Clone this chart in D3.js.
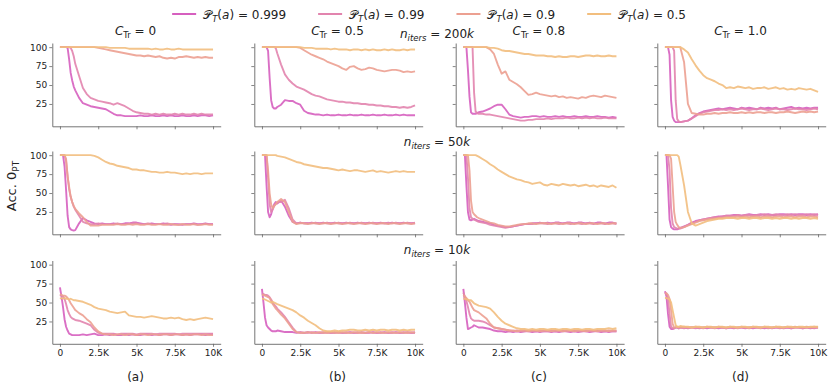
<!DOCTYPE html>
<html><head><meta charset="utf-8">
<script src="https://cdn.jsdelivr.net/npm/d3@7"></script>
<style>body{margin:0;background:#fff} text{font-family:"DejaVu Sans",sans-serif;fill:#222}</style>
</head><body><svg id="c" width="830" height="385"></svg>
<script>
// ---------- data ----------
const iters = [0,100,200,300,400,500,600,700,800,900,1000,
  1250,1500,1750,2000,2250,2500,2750,3000,3250,3500,3750,4000,4250,4500,4750,5000,
  5250,5500,5750,6000,6250,6500,6750,7000,7250,7500,7750,8000,8250,8500,8750,9000,
  9250,9500,9750,10000];
const probLabels = ["0.999","0.99","0.9","0.5"];
const seriesColors = ["#d65fbf","#e284ae","#eca091","#f2be7e"];
const ctrLabels = ["0","0.5","0.8","1.0"];
const nitersLabels = ["200","50","10"];
const panelLetters = ["(a)","(b)","(c)","(d)"];
const yTicks = [25,50,75,100];
const xTicks = [0,2500,5000,7500,10000];
const xTickLabels = ["0","2.5K","5K","7.5K","10K"];

// n_iters = 200k
const n200_c0_p999 = [100,100,100,100,100,99,84,66,56,48,43, 33,26,24,22, 21,20,19,18, 15,12,10,10, 9,9,9,9, 10,9,9,10, 9,9,10,9, 10,9,9,10, 9,9,10,9, 10,10,9,10];
const n200_c0_p99 = [100,100,100,100,100,100,100,99,95,88,78, 62,46,38,33, 31,29,28,27, 26,24,26,24, 22,19,16,14, 13,12,12,11, 12,11,12,11, 11,12,11,12, 11,11,12,11, 12,11,11,11];
const n200_c0_p9 = [100,100,100,100,100,100,100,100,100,100,100, 100,100,100,100, 100,99,98,97, 96,95,94,93, 92,91,90,89, 89,88,89,88, 87,88,86,85, 86,85,87,87, 88,87,86,87, 86,87,86,86];
const n200_c0_p5 = [100,100,100,100,100,100,100,100,100,100,100, 100,100,100,100, 100,100,100,100, 99,99,99,99, 99,98,98,98, 98,98,98,97, 98,97,97,98, 97,97,98,97, 97,97,97,97, 97,97,97,97];

const n200_c05_p999 = [100,100,100,100,95,60,30,21,19,19,21, 24,30,29,29, 26,24,16,13, 12,11,11,10, 11,10,10,11, 10,10,11,10, 10,11,10,10, 11,10,10,11, 10,10,11,10, 11,10,10,10];
const n200_c05_p99 = [100,100,100,100,100,100,100,100,100,99,92, 77,64,57,52, 48,46,44,41, 38,36,35,33, 31,30,29,28, 28,27,27,26, 26,25,25,24, 24,23,23,22, 22,21,21,20, 21,20,21,23];
const n200_c05_p9 = [100,100,100,100,100,100,100,100,100,100,100, 100,100,100,100, 100,99,96,93, 90,88,86,84, 81,79,77,75, 72,70,74,75, 72,70,71,73, 72,70,69,68, 69,70,70,69, 67,68,67,68];
const n200_c05_p5 = [100,100,100,100,100,100,100,100,100,100,100, 100,100,100,100, 100,100,99,99, 99,98,98,98, 98,97,98,97, 97,97,96,97, 97,96,97,96, 97,96,96,97, 96,97,96,96, 97,96,97,97];

const n200_c08_p999 = [100,100,100,70,35,14,12,12,12,13,14, 15,17,19,22, 24,24,18,11, 9,8,7,8, 8,9,9,8, 9,8,8,9, 8,9,8,8, 9,8,8,9, 8,8,9,8, 8,7,8,7];
const n200_c08_p99 = [100,100,100,100,100,100,100,40,15,13,12, 12,11,11,10, 9,8,7,6, 5,4,3,3, 4,4,5,5, 5,6,5,6, 6,6,7,6, 6,7,6,7, 6,7,6,6, 7,6,6,6];
const n200_c08_p9 = [100,100,100,100,100,100,100,100,100,100,100, 100,100,97,91, 77,65,68,57, 54,51,47,42, 37,38,40,38, 37,36,35,36, 34,35,33,34, 33,32,34,33, 35,36,35,34, 36,35,34,33];
const n200_c08_p5 = [100,100,100,100,100,100,100,100,100,100,100, 100,100,99,99, 98,96,95,95, 94,93,92,91, 91,90,89,89, 89,88,88,87, 88,87,87,88, 88,87,88,89, 89,88,89,88, 88,89,88,88];

const n200_c10_p999 = [100,100,100,90,30,8,3,1,1,1,1, 2,3,6,10, 13,15,16,17, 18,19,18,19, 20,19,18,20, 19,20,19,18, 20,19,20,19, 20,18,19,20, 21,19,20,19, 20,19,20,20];
const n200_c10_p99 = [100,100,100,100,100,100,95,30,5,2,1, 2,3,6,9, 12,14,15,16, 17,17,18,17, 18,17,18,19, 18,17,18,18, 19,18,17,18, 19,18,18,17, 18,19,18,18, 17,18,19,18];
const n200_c10_p9 = [100,100,100,100,100,100,100,100,100,100,100, 80,25,13,12, 11,11,12,12, 13,12,13,13, 14,13,13,14, 13,14,13,14, 14,13,14,14, 13,14,14,15, 14,13,14,15, 14,15,14,15];
const n200_c10_p5 = [100,100,100,100,100,100,100,100,100,100,100, 97,93,84,76, 69,63,59,57, 55,52,50,46, 47,46,48,47, 46,47,45,46, 46,47,45,46, 47,45,46,44, 45,44,46,45, 44,45,43,41];

// n_iters = 50k
const n50_c0_p999 = [100,100,100,85,54,20,5,2,1,0.5,1, 10,17,14,12, 10,9,10,9, 9,10,9,9, 10,10,11,11, 10,9,9,10, 9,9,10,9, 8,9,9,8, 9,9,10,9, 9,10,9,9];
const n50_c0_p99 = [100,100,100,100,92,72,55,45,38,32,28, 20,12,10,9, 9,10,9,9, 9,9,10,9, 9,9,10,10, 9,9,10,9, 9,9,9,10, 9,9,8,9, 9,9,9,8, 9,9,9,9];
const n50_c0_p9 = [100,100,100,100,95,72,58,45,38,33,29, 23,18,12,7, 7,7,8,8, 8,8,9,8, 8,9,8,9, 8,8,9,8, 8,9,8,8, 9,8,8,9, 8,8,9,8, 8,9,8,8];
const n50_c0_p5 = [100,100,100,100,100,100,100,100,100,100,100, 100,100,100,100, 99,97,94,91, 89,88,86,85, 84,83,81,81, 80,80,79,78, 78,77,77,78, 77,77,76,75, 76,75,76,76, 75,76,76,76];

const n50_c05_p999 = [100,100,100,60,25,18,22,30,35,38,36, 40,32,20,12, 10,11,10,10, 11,10,10,11, 10,10,11,10, 10,11,10,10, 11,10,10,11, 10,10,11,10, 10,11,10,10, 11,10,10,10];
const n50_c05_p99 = [100,100,100,100,70,35,25,28,33,36,38, 38,41,30,15, 10,11,10,10, 10,11,10,10, 11,10,10,11, 10,10,11,10, 10,11,10,10, 11,10,10,10, 11,10,11,10, 10,11,10,11];
const n50_c05_p9 = [100,100,100,100,80,50,35,30,33,35,38, 42,38,25,12, 9,10,10,9, 10,10,9,10, 10,9,10,10, 9,10,10,9, 10,10,9,10, 10,9,10,10, 9,10,10,9, 10,10,9,10];
const n50_c05_p5 = [100,100,100,100,100,100,100,100,100,100,99, 98,97,95,93, 91,90,88,87, 86,85,84,83, 83,82,81,80, 81,80,79,80, 80,79,78,79, 80,78,79,78, 77,78,79,78, 79,78,78,78];

const n50_c08_p999 = [100,100,60,25,15,14,15,16,15,14,13, 12,11,10,8, 7,6,5,5, 6,7,8,9, 9,10,10,11, 10,11,10,11, 11,10,11,11, 10,11,11,10, 11,10,11,11, 10,11,11,10];
const n50_c08_p99 = [100,100,100,70,30,18,16,15,14,13,12, 11,10,8,7, 6,5,4,5, 6,7,8,9, 9,9,10,10, 10,9,10,10, 9,10,10,9, 10,10,9,10, 10,9,10,10, 9,10,10,9];
const n50_c08_p9 = [100,100,100,100,80,40,25,22,20,18,17, 15,13,11,10, 8,7,6,6, 7,8,9,9, 10,10,9,10, 10,10,9,10, 10,9,10,10, 9,10,10,9, 10,10,9,10, 10,9,10,10];
const n50_c08_p5 = [100,100,100,100,100,100,100,100,100,99,98, 95,92,88,85, 81,78,75,72, 70,68,67,65, 64,62,63,64, 61,60,62,61, 60,62,61,60, 61,59,60,61, 59,60,58,60, 59,58,60,57];

const n50_c10_p999 = [100,100,60,15,5,3,2,2,2,3,4, 6,8,11,13, 14,15,16,17, 18,19,19,20, 20,21,21,20, 21,22,21,21, 22,21,22,21, 21,22,22,21, 22,21,22,22, 21,22,21,22];
const n50_c10_p99 = [100,100,100,80,30,10,5,4,3,3,3, 5,8,10,12, 14,15,16,17, 18,18,19,20, 20,20,21,20, 21,21,20,21, 21,22,21,21, 22,21,21,22, 21,22,21,21, 22,21,22,21];
const n50_c10_p9 = [100,100,100,100,95,60,25,12,8,5,4, 5,7,9,11, 13,14,15,16, 16,17,17,18, 18,18,19,18, 19,18,19,19, 18,19,19,18, 19,19,18,19, 19,18,19,19, 18,19,19,18];
const n50_c10_p5 = [100,100,100,100,100,100,100,100,100,98,88, 60,25,10,7, 9,11,13,14, 15,16,16,17, 17,17,16,17, 17,16,17,17, 16,17,17,16, 17,16,17,17, 16,17,16,17, 17,16,17,16];

// n_iters = 10k
const n10_c0_p999 = [70,58,44,28,18,13,9,8,7,7,7, 7,8,7,8, 9,7,7,8, 7,8,7,7, 8,7,8,7, 7,8,8,7, 8,7,8,8, 7,8,8,7, 8,7,8,8, 8,7,8,8];
const n10_c0_p99 = [60,59,58,55,48,40,35,31,29,28,27, 26,24,22,20, 14,10,9,9, 9,9,8,9, 9,9,9,8, 9,9,9,9, 8,9,9,9, 9,9,8,9, 9,9,9,9, 9,9,9,9];
const n10_c0_p9 = [61,60,59,59,58,56,53,49,46,43,40, 36,33,28,24, 17,12,9,8, 8,7,8,8, 7,8,8,7, 8,8,7,8, 8,7,8,8, 7,8,8,7, 8,7,8,8, 7,8,7,7];
const n10_c0_p5 = [55,56,55,56,55,55,54,55,54,53,53, 52,51,49,47, 44,42,41,40, 38,37,36,37, 38,33,32,31, 31,30,31,32, 31,30,29,29, 30,29,30,28, 27,28,27,28, 29,30,29,28];

const n10_c05_p999 = [68,50,30,20,17,15,13,12,12,12,13, 12,11,11,11, 10,11,10,11, 10,11,10,10, 11,10,10,11, 10,10,11,10, 10,11,10,10, 11,10,10,11, 10,10,11,10, 10,11,10,10];
const n10_c05_p99 = [62,61,60,60,59,57,54,50,47,45,42, 37,31,24,17, 11,10,10,10, 11,10,10,11, 10,10,11,10, 10,11,10,10, 11,10,10,11, 10,10,11,10, 10,11,10,10, 11,10,10,11];
const n10_c05_p9 = [60,60,59,58,57,56,52,48,45,42,40, 34,29,22,15, 11,10,10,11, 10,10,11,10, 10,11,10,10, 11,10,10,11, 10,10,10,11, 10,11,10,10, 11,10,10,11, 10,10,11,10];
const n10_c05_p5 = [55,55,54,53,52,51,50,51,50,49,48, 46,44,42,40, 37,33,30,26, 23,20,16,13, 12,12,13,12, 13,13,14,14, 13,13,14,13, 14,13,14,14, 13,14,14,13, 14,13,14,14];

const n10_c08_p999 = [68,50,30,15,16,17,18,20,19,18,17, 17,16,15,13, 12,12,11,12, 11,12,11,12, 12,11,12,11, 12,12,11,12, 11,12,12,11, 12,11,12,12, 11,12,12,11, 12,11,12,12];
const n10_c08_p99 = [63,58,52,44,35,29,27,26,26,26,26, 25,23,20,17, 16,15,14,13, 12,13,12,12, 13,12,12,13, 12,12,13,12, 12,13,12,12, 13,12,12,13, 12,12,13,12, 12,13,12,12];
const n10_c08_p9 = [60,58,56,53,51,47,43,40,39,38,37, 33,29,22,17, 16,15,14,13, 13,12,13,13, 12,13,13,12, 13,13,12,13, 13,12,13,13, 12,13,13,12, 13,13,12,13, 13,12,13,13];
const n10_c08_p5 = [55,55,54,54,53,53,51,49,48,47,46, 45,44,42,37, 31,26,22,20, 18,16,15,15, 14,15,14,15, 15,14,15,15, 14,15,15,14, 15,15,14,15, 15,14,15,15, 15,16,15,16];

const n10_c10_p999 = [65,58,35,18,15,15,16,17,17,16,17, 17,16,17,17, 16,17,16,17, 17,16,17,16, 17,16,17,17, 16,17,16,17, 17,16,17,16, 17,17,16,17, 16,17,17,16, 17,16,17,17];
const n10_c10_p99 = [63,62,55,35,18,16,16,17,17,16,17, 16,17,17,16, 17,16,17,17, 16,17,17,16, 17,17,16,17, 17,16,17,17, 16,17,16,17, 17,16,17,17, 16,17,17,16, 17,17,16,17];
const n10_c10_p9 = [62,62,60,55,40,22,17,17,18,17,17, 18,17,17,18, 17,17,18,17, 17,18,17,17, 18,17,17,18, 17,17,18,17, 17,18,17,17, 18,17,17,18, 17,18,17,17, 18,17,18,17];
const n10_c10_p5 = [56,56,55,54,50,40,30,20,18,18,19, 18,18,17,18, 18,17,18,18, 17,18,18,17, 18,18,17,18, 18,17,18,18, 17,18,18,17, 18,18,17,18, 18,17,18,18, 17,18,18,18];

const panels = [
  [[n200_c0_p999,n200_c0_p99,n200_c0_p9,n200_c0_p5],
   [n200_c05_p999,n200_c05_p99,n200_c05_p9,n200_c05_p5],
   [n200_c08_p999,n200_c08_p99,n200_c08_p9,n200_c08_p5],
   [n200_c10_p999,n200_c10_p99,n200_c10_p9,n200_c10_p5]],
  [[n50_c0_p999,n50_c0_p99,n50_c0_p9,n50_c0_p5],
   [n50_c05_p999,n50_c05_p99,n50_c05_p9,n50_c05_p5],
   [n50_c08_p999,n50_c08_p99,n50_c08_p9,n50_c08_p5],
   [n50_c10_p999,n50_c10_p99,n50_c10_p9,n50_c10_p5]],
  [[n10_c0_p999,n10_c0_p99,n10_c0_p9,n10_c0_p5],
   [n10_c05_p999,n10_c05_p99,n10_c05_p9,n10_c05_p5],
   [n10_c08_p999,n10_c08_p99,n10_c08_p9,n10_c08_p5],
   [n10_c10_p999,n10_c10_p99,n10_c10_p9,n10_c10_p5]]
];

// ---------- layout ----------
const svg = d3.select("#c");
const colLeft = [52.3, 254.3, 455.7, 657.3];
const axW = 168.4;
const rowTop = [43, 151, 260.5];
const axH = 83.3;
const spineColor = "#666";

const bad = [];
panels.forEach((row, r) => {
  row.forEach((ser, c) => {
    const x = d3.scaleLinear().domain([-500, 10500]).range([colLeft[c], colLeft[c] + axW]);
    const y = d3.scaleLinear().domain([-4.5, 105.5]).range([rowTop[r] + axH, rowTop[r]]);
    const g = svg.append("g");

    const ya = d3.axisLeft(y).tickValues(yTicks).tickSize(3).tickPadding(2).tickSizeOuter(0)
      .tickFormat(c === 0 ? d3.format("d") : () => "");
    const gy = g.append("g").attr("transform", `translate(${colLeft[c]},0)`).call(ya);
    const xa = d3.axisBottom(x).tickValues(xTicks).tickSize(3).tickPadding(3).tickSizeOuter(0)
      .tickFormat((d, i) => r === 2 ? xTickLabels[i] : "");
    const gx = g.append("g").attr("transform", `translate(0,${rowTop[r] + axH})`).call(xa);
    [gx, gy].forEach(a => {
      a.select(".domain").attr("stroke", spineColor).attr("stroke-width", 0.9);
      a.selectAll(".tick line").attr("stroke", spineColor).attr("stroke-width", 0.8);
      a.selectAll(".tick text").style("font-family", "DejaVu Sans").style("font-size", "9px").attr("fill", "#222");
    });

    const line = d3.line().x((d, i) => x(iters[i])).y(d => y(d));
    ser.forEach((vals, k) => {
      if (vals.length !== iters.length) bad.push(`r${r}c${c}s${k}:${vals.length}`);
      g.append("path").datum(vals)
        .attr("d", line)
        .attr("fill", "none")
        .attr("stroke", seriesColors[k])
        .attr("stroke-width", 1.9)
        .attr("stroke-opacity", 0.9)
        .attr("stroke-linejoin", "round");
    });
  });
});

// column titles
ctrLabels.forEach((lab, c) => {
  const t = svg.append("text").attr("x", colLeft[c] + axW / 2 - 1).attr("y", 35)
    .attr("text-anchor", "middle").style("font-size", "12px");
  t.append("tspan").style("font-style", "italic").text("C");
  t.append("tspan").attr("dy", 3).style("font-size", "8.5px").text("Tr");
  t.append("tspan").attr("dy", -3).text(" = " + lab);
});

// row titles
const rowLabelY = [38, 146, 254];
nitersLabels.forEach((lab, r) => {
  const t = svg.append("text").attr("x", 437).attr("y", rowLabelY[r])
    .attr("text-anchor", "middle").style("font-size", "12px");
  t.append("tspan").style("font-style", "italic").text("n");
  t.append("tspan").attr("dy", 3).style("font-size", "8.5px").style("font-style", "italic").text("iters");
  t.append("tspan").attr("dy", -3).text(" = " + lab);
  t.append("tspan").style("font-style", "italic").text("k");
});

// panel letters
panelLetters.forEach((lab, c) => {
  svg.append("text").attr("x", colLeft[c] + axW / 2 - 1).attr("y", 381)
    .attr("text-anchor", "middle").style("font-size", "12px").text(lab);
});

// y label
const yl = svg.append("text").attr("transform", "translate(16,186) rotate(-90)")
  .attr("text-anchor", "middle").style("font-size", "13px");
yl.append("tspan").text("Acc. 0");
yl.append("tspan").attr("dy", 3).style("font-size", "9px").text("PT");

// legend
const leg = svg.append("g");
const legGap = 32;
let lx = 0;
probLabels.forEach((p, k) => {
  const item = leg.append("g").attr("transform", `translate(${lx},0)`);
  item.append("line").attr("x1", 0).attr("x2", 24).attr("y1", 0).attr("y2", 0)
    .attr("stroke", seriesColors[k]).attr("stroke-width", 2);
  const t = item.append("text").attr("x", 31).attr("y", 4.5).style("font-size", "12px");
  t.append("tspan").style("font-weight", "normal").text("\u{1D4AB}");
  t.append("tspan").attr("dy", 3).style("font-size", "8.5px").style("font-style", "italic").text("T");
  t.append("tspan").attr("dy", -3).text("(");
  t.append("tspan").style("font-style", "italic").text("a");
  t.append("tspan").text(") = " + p);
  lx += 31 + t.node().getComputedTextLength() + legGap;
});
const legW = lx - legGap;
leg.attr("transform", `translate(${429 - legW / 2},14)`);

if (bad.length) throw new Error("length mismatch " + bad.join(","));
</script></body></html>
